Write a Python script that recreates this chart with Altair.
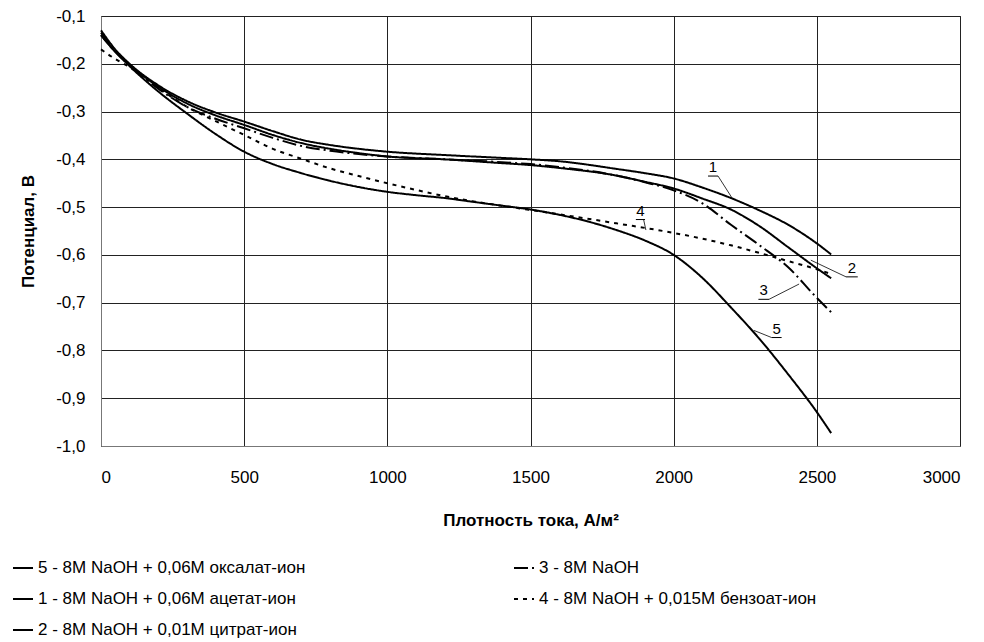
import altair as alt
import pandas as pd

# ---- data ----
labels = {
    "5": "5 - 8M NaOH + 0,06M оксалат-ион",
    "3": "3 - 8M NaOH",
    "1": "1 - 8M NaOH + 0,06M ацетат-ион",
    "4": "4 - 8M NaOH + 0,015M бензоат-ион",
    "2": "2 - 8M NaOH + 0,01M цитрат-ион",
}
# legend is filled column by column: left column 5,1,2 ; right column 3,4
legend_order = ["5", "1", "2", "3", "4"]
dash_by_key = {"5": [1, 0], "1": [1, 0], "2": [1, 0], "3": [14, 4, 2, 4], "4": [4, 5]}

x_c1 = [0, 50, 100, 200, 300, 400, 500, 600, 700, 800, 900, 1000, 1200, 1400,
        1500, 1600, 1800, 1900, 2000, 2100, 2200, 2300, 2400, 2500, 2550]
y_c1 = [-0.130, -0.170, -0.200, -0.245, -0.278, -0.302, -0.321, -0.341, -0.359,
        -0.370, -0.378, -0.384, -0.391, -0.397, -0.400, -0.404, -0.420, -0.429,
        -0.440, -0.459, -0.481, -0.507, -0.537, -0.576, -0.599]

x_c2 = x_c1
y_c2 = [-0.140, -0.175, -0.202, -0.248, -0.283, -0.308, -0.328, -0.349, -0.366,
        -0.378, -0.387, -0.394, -0.400, -0.408, -0.412, -0.418, -0.434, -0.447,
        -0.461, -0.482, -0.505, -0.540, -0.584, -0.628, -0.649]

x_c3 = x_c1
y_c3 = [-0.135, -0.172, -0.203, -0.252, -0.290, -0.315, -0.335, -0.355, -0.372,
        -0.382, -0.389, -0.394, -0.400, -0.406, -0.410, -0.416, -0.434, -0.448,
        -0.465, -0.492, -0.537, -0.580, -0.626, -0.690, -0.720]

x_c4 = [0, 50, 100, 200, 300, 400, 500, 600, 700, 800, 900, 1000, 1100, 1200,
        1300, 1400, 1500, 1600, 1800, 2000, 2100, 2200, 2300, 2400, 2500, 2550]
y_c4 = [-0.170, -0.190, -0.207, -0.250, -0.290, -0.320, -0.349, -0.378, -0.399,
        -0.419, -0.435, -0.450, -0.464, -0.477, -0.488, -0.497, -0.506, -0.515,
        -0.534, -0.554, -0.566, -0.580, -0.596, -0.613, -0.630, -0.640]

x_c5 = [0, 50, 100, 200, 300, 400, 500, 600, 700, 800, 900, 1000, 1100, 1200,
        1300, 1400, 1500, 1600, 1700, 1800, 1900, 2000, 2100, 2200, 2300, 2400,
        2500, 2550]
y_c5 = [-0.140, -0.175, -0.205, -0.258, -0.304, -0.347, -0.384, -0.410, -0.429,
        -0.445, -0.458, -0.468, -0.475, -0.481, -0.489, -0.497, -0.505, -0.516,
        -0.530, -0.548, -0.570, -0.600, -0.648, -0.710, -0.776, -0.850, -0.929,
        -0.973]

# curve-label annotations (data units)
ann_num = ["1", "2", "3", "4", "5"]
ann_ux1 = [2120, 2602, 2296, 1868, 2342]
ann_ux2 = [2155, 2643, 2333, 1900, 2377]
ann_uy = [-0.435, -0.646, -0.693, -0.526, -0.773]
ann_lx1 = [2155, 2602, 2333, 1895, 2342]
ann_ly1 = [-0.435, -0.646, -0.693, -0.526, -0.773]
ann_lx2 = [2204, 2479, 2438, 1903, 2280]
ann_ly2 = [-0.481, -0.611, -0.661, -0.548, -0.758]

x_ticks = [0, 500, 1000, 1500, 2000, 2500, 3000]
y_ticks = [-1.0, -0.9, -0.8, -0.7, -0.6, -0.5, -0.4, -0.3, -0.2, -0.1]

rows = []
for key, xs, ys in [("1", x_c1, y_c1), ("2", x_c2, y_c2), ("3", x_c3, y_c3),
                    ("4", x_c4, y_c4), ("5", x_c5, y_c5)]:
    for xv, yv in zip(xs, ys):
        rows.append({"series": labels[key], "x": xv, "y": yv})
df = pd.DataFrame(rows)

ann = pd.DataFrame({
    "num": ann_num, "ux1": ann_ux1, "ux2": ann_ux2, "uy": ann_uy,
    "lx1": ann_lx1, "ly1": ann_ly1, "lx2": ann_lx2, "ly2": ann_ly2,
})
ann["tx"] = (ann["ux1"] + ann["ux2"]) / 2

FONT = "Liberation Sans"
xscale = alt.Scale(domain=[0, 3000], nice=False, zero=False)
yscale = alt.Scale(domain=[-1.0, -0.1], nice=False, zero=False)

dash_domain = [labels[k] for k in legend_order]
dash_range = [dash_by_key[k] for k in legend_order]

lines = alt.Chart(df).mark_line(strokeWidth=2, color="black", interpolate="monotone").encode(
    x=alt.X("x:Q", scale=xscale,
            axis=alt.Axis(values=x_ticks, title="Плотность тока, А/м²", format="d",
                          grid=True, gridColor="#222", ticks=False, labelPadding=23,
                          labelFontSize=17, titleFontSize=17, titleFontWeight="bold",
                          titlePadding=27, domainColor="#777", labelFont=FONT, titleFont=FONT,
                          labelColor="black", titleColor="black")),
    y=alt.Y("y:Q", scale=yscale,
            axis=alt.Axis(values=y_ticks, title="Потенциал, В",
                          labelExpr="(datum.value < 0 ? '-' : '') + replace(format(abs(datum.value), '.1f'), '.', ',')",
                          grid=True, gridColor="#222", ticks=False, labelPadding=16,
                          labelFontSize=17, titleFontSize=17, titleFontWeight="bold",
                          titlePadding=18, domainColor="#777", labelFont=FONT, titleFont=FONT,
                          labelColor="black", titleColor="black")),
    strokeDash=alt.StrokeDash("series:N", scale=alt.Scale(domain=dash_domain, range=dash_range),
                              legend=alt.Legend(title=None, orient="none", legendX=-89, legendY=541,
                                                columns=2, columnPadding=204, rowPadding=12,
                                                symbolType="stroke", symbolSize=400,
                                                symbolStrokeWidth=2, symbolStrokeColor="black",
                                                labelFontSize=17, labelFont=FONT, labelColor="black",
                                                labelLimit=400, labelOffset=4)),
    detail="series:N",
)

underline = alt.Chart(ann).mark_rule(color="black", strokeWidth=1).encode(
    x=alt.X("ux1:Q", scale=xscale), x2="ux2:Q",
    y=alt.Y("uy:Q", scale=yscale), y2="uy:Q",
)
leader = alt.Chart(ann).mark_rule(color="black", strokeWidth=0.8).encode(
    x=alt.X("lx1:Q", scale=xscale), x2="lx2:Q",
    y=alt.Y("ly1:Q", scale=yscale), y2="ly2:Q",
)
nums = alt.Chart(ann).mark_text(fontSize=15, font=FONT, color="black", baseline="bottom", dy=-1).encode(
    x=alt.X("tx:Q", scale=xscale),
    y=alt.Y("uy:Q", scale=yscale),
    text="num:N",
)

chart = alt.layer(lines, underline, leader, nums).properties(
    width=859, height=430,
    autosize=alt.AutoSizeParams(type="none"),
    padding={"left": 101, "top": 16, "right": 24, "bottom": 196},
    background="white",
).configure_view(stroke="#222", strokeWidth=1)

chart.save("out.html", embed_options={"renderer": "svg", "actions": False})
